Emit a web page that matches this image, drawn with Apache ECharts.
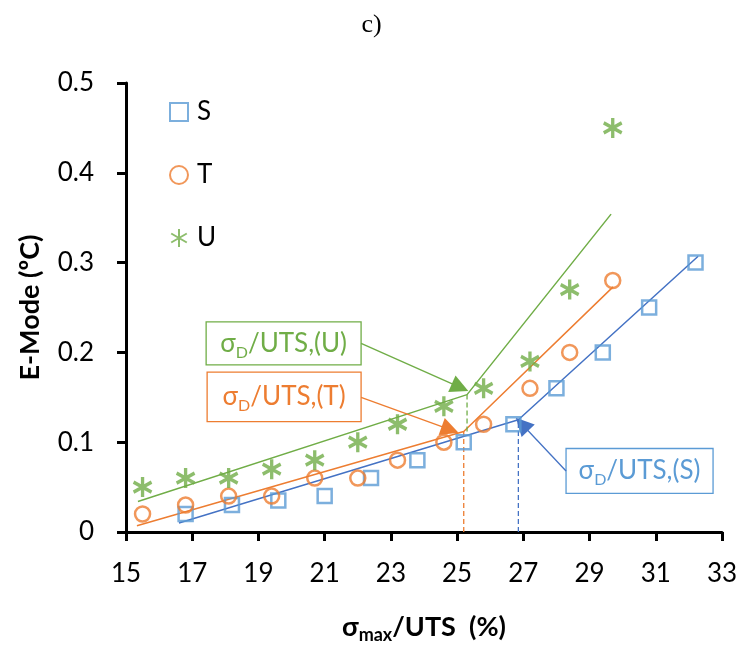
<!DOCTYPE html>
<html>
<head>
<meta charset="utf-8">
<script src="https://cdn.jsdelivr.net/npm/echarts@6/dist/echarts.min.js"></script>
<style>
  html, body { margin: 0; padding: 0; background: #fff; }
  #chart { width: 743px; height: 649px; }
</style>
</head>
<body>
<div id="chart"></div>
<script>
// Measured points: sigma_max/UTS (%) against E-Mode (ºC)
const sX = [16.8, 18.2, 19.6, 21.0, 22.4, 23.8, 25.2, 26.7, 28.0, 29.4, 30.8, 32.2];
const sY = [0.02, 0.03, 0.035, 0.04, 0.06, 0.08, 0.10, 0.12, 0.16, 0.20, 0.25, 0.30];
const tX = [15.5, 16.8, 18.1, 19.4, 20.7, 22.0, 23.2, 24.6, 25.8, 27.2, 28.4, 29.7];
const tY = [0.02, 0.03, 0.04, 0.04, 0.06, 0.06, 0.08, 0.10, 0.12, 0.16, 0.20, 0.28];
const uX = [15.5, 16.8, 18.1, 19.4, 20.7, 22.0, 23.2, 24.6, 25.8, 27.2, 28.4, 29.7];
const uY = [0.05, 0.06, 0.06, 0.07, 0.08, 0.10, 0.12, 0.14, 0.16, 0.19, 0.27, 0.45];

// Bilinear fits: start, knee, end
const sFitX = [16.6, 26.85, 32.28];
const sFitY = [0.010, 0.125, 0.307];
const tFitX = [15.33, 25.2, 29.71];
const tFitY = [0.007, 0.112, 0.273];
const uFitX = [15.36, 25.3, 29.65];
const uFitY = [0.034, 0.153, 0.354];

const xTicks = [15, 17, 19, 21, 23, 25, 27, 29, 31, 33];
const yTicks = [0, 0.1, 0.2, 0.3, 0.4, 0.5];

const C_S = '#5B9BD5', C_T = '#ED7D31', C_U = '#70AD47', C_SFIT = '#4472C4';
const FONT = 'Lato, "Open Sans", sans-serif';

const pairs = (xs, ys) => xs.map((x, i) => [x, ys[i]]);
const asterisk = 'path://M10,0L10,20M1.34,5L18.66,15M1.34,15L18.66,5';

function fitSeries(xs, ys, color) {
  return {
    type: 'line', data: pairs(xs, ys), showSymbol: false, symbol: 'none',
    lineStyle: { color: color, width: 1.5 }, z: 2, silent: true
  };
}
function dropLine(x, y0, y1, color) {
  return {
    type: 'line', data: [[x, y0], [x, y1]], showSymbol: false, symbol: 'none',
    lineStyle: { color: color, width: 1.3, type: [5, 3] }, z: 2, silent: true
  };
}
function arrow(from, to, color) {
  return {
    type: 'lines', coordinateSystem: 'cartesian2d', z: 3, silent: true,
    symbol: ['none', 'triangle'], symbolSize: [15, 18],
    lineStyle: { color: color, width: 1.3, opacity: 1, curveness: 0 },
    data: [{ coords: [from, to] }]
  };
}

const chart = echarts.init(document.getElementById('chart'));
chart.setOption({
  animation: false,
  title: {
    text: 'c)', left: 'center', top: 7,
    textStyle: { fontFamily: '"Liberation Serif", serif', fontWeight: 'normal', fontSize: 26, color: '#000' }
  },
  grid: { left: 126, right: 21, top: 83, bottom: 116 },
  legend: {
    orient: 'vertical', left: 164, top: 94, itemGap: 37,
    itemWidth: 18, itemHeight: 18,
    data: ['S', 'T', 'U'],
    textStyle: { fontFamily: FONT, fontSize: 26, color: '#000', padding: [0, 0, 0, 4] }
  },
  xAxis: {
    type: 'value', min: 15, max: 33, interval: 2,
    name: '{b|σ}{sub|max}{b|/UTS  (%)}', nameLocation: 'middle', nameGap: 78,
    nameTextStyle: {
      rich: {
        b: { fontFamily: FONT, fontWeight: 'bold', fontSize: 27, color: '#000', lineHeight: 32, verticalAlign: 'middle' },
        sub: { fontFamily: FONT, fontWeight: 'bold', fontSize: 18, color: '#000', lineHeight: 34, verticalAlign: 'bottom' }
      }
    },
    axisLine: { lineStyle: { color: '#000', width: 3 } },
    axisTick: { show: true, length: 9, lineStyle: { color: '#000', width: 3 } },
    axisLabel: { margin: 29, fontFamily: FONT, fontSize: 26, color: '#000',
      customValues: xTicks },
    splitLine: { show: false }
  },
  yAxis: {
    type: 'value', min: 0, max: 0.5, interval: 0.1,
    name: 'E-Mode (ºC)', nameLocation: 'middle', nameGap: 82,
    nameTextStyle: { fontFamily: FONT, fontWeight: 'bold', fontSize: 27, color: '#000' },
    axisLine: { show: true, lineStyle: { color: '#000', width: 3 } },
    axisTick: { show: true, length: 9, lineStyle: { color: '#000', width: 3 } },
    axisLabel: { margin: 32, fontFamily: FONT, fontSize: 26, color: '#000',
      customValues: yTicks, formatter: v => String(+v.toFixed(1)) },
    splitLine: { show: false }
  },
  series: [
    fitSeries(sFitX, sFitY, C_SFIT),
    fitSeries(tFitX, tFitY, C_T),
    fitSeries(uFitX, uFitY, C_U),
    dropLine(sFitX[1], 0, sFitY[1], C_SFIT),
    dropLine(tFitX[1], 0, tFitY[1], C_T),
    dropLine(uFitX[1], tFitY[1], uFitY[1], C_U),
    arrow([22.1, 0.210], [25.09, 0.161], C_U),
    arrow([22.1, 0.150], [24.79, 0.114], C_T),
    arrow([28.29, 0.068], [26.96, 0.120], C_SFIT),
    {
      name: 'S', type: 'scatter', data: pairs(sX, sY), symbol: 'rect', symbolSize: 14, z: 5,
      itemStyle: { color: 'rgba(255,255,255,0)', borderColor: C_S, borderWidth: 2.5 }
    },
    {
      name: 'T', type: 'scatter', data: pairs(tX, tY), symbol: 'circle', symbolSize: 15, z: 5,
      itemStyle: { color: 'rgba(255,255,255,0)', borderColor: C_T, borderWidth: 2.5 }
    },
    {
      name: 'U', type: 'scatter', data: pairs(uX, uY), symbol: asterisk, symbolSize: [18, 20], z: 5,
      itemStyle: { color: C_U, borderColor: C_U, borderWidth: 3.5 }
    }
  ]
});

// Callout boxes placed in data units: [xLeft, yTop, xRight, yBottom]
const callouts = [
  { box: [17.42, 0.234, 22.10, 0.186], label: 'U', color: C_U },
  { box: [17.45, 0.178, 22.10, 0.123], label: 'T', color: C_T },
  { box: [28.29, 0.093, 32.73, 0.043], label: 'S', color: C_S }
];
const graphics = callouts.map(c => {
  const p0 = chart.convertToPixel({ gridIndex: 0 }, [c.box[0], c.box[1]]);
  const p1 = chart.convertToPixel({ gridIndex: 0 }, [c.box[2], c.box[3]]);
  const w = p1[0] - p0[0], h = p1[1] - p0[1];
  return {
    type: 'group', x: p0[0], y: p0[1], z: 10,
    children: [
      { type: 'rect', shape: { x: 0, y: 0, width: w, height: h },
        style: { fill: '#fff', stroke: c.color, lineWidth: 1.3 } },
      { type: 'text', x: w / 2, y: h / 2,
        style: {
          text: '{a|σ}{d|D}{a|/UTS,(' + c.label + ')}',
          align: 'center', verticalAlign: 'middle',
          rich: {
            a: { fontFamily: FONT, fontSize: 26, fill: c.color, lineHeight: 32, verticalAlign: 'middle' },
            d: { fontFamily: FONT, fontSize: 16, fill: c.color, lineHeight: 34, verticalAlign: 'bottom' }
          }
        } }
    ]
  };
});
chart.setOption({ graphic: graphics });
</script>
</body>
</html>
